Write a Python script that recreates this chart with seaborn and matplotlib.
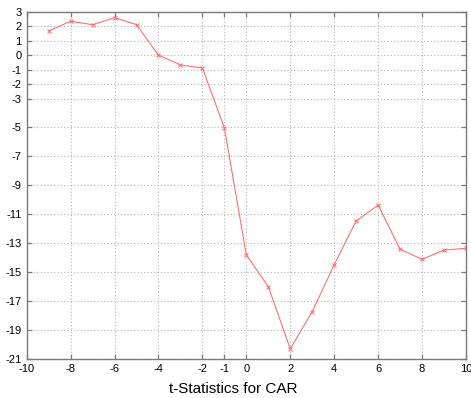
import matplotlib
matplotlib.use("Agg")
import matplotlib.pyplot as plt
import seaborn as sns
import pandas as pd

event_day = [-9, -8, -7, -6, -5, -4, -3, -2, -1, 0, 1, 2, 3, 4, 5, 6, 7, 8, 9, 10]
t_stat = [1.67, 2.34, 2.1, 2.59, 2.1, 0.0, -0.68, -0.89, -5.03, -13.81, -16.0, -20.3,
          -17.73, -14.48, -11.46, -10.36, -13.42, -14.11, -13.47, -13.35]
x_ticks = [-10, -8, -6, -4, -2, -1, 0, 2, 4, 6, 8, 10]
y_ticks = [3, 2, 1, 0, -1, -2, -3, -5, -7, -9, -11, -13, -15, -17, -19, -21]
x_label = "t-Statistics for CAR"

df = pd.DataFrame({"day": event_day, "t": t_stat})

sns.set_style("white")
plt.rcParams["font.family"] = ["Liberation Sans", "DejaVu Sans"]

fig = plt.figure(figsize=(4.71, 3.98), dpi=100)
ax = fig.add_axes([26.7 / 471, 1 - 359 / 398, (466 - 26.7) / 471, (359 - 11.7) / 398])

sns.lineplot(data=df, x="day", y="t", ax=ax, color="#ff6a6a", linewidth=0.75,
             marker="x", markersize=3.2, markeredgewidth=0.7, markeredgecolor="#ff6a6a")

ax.set_xlim(-10, 10)
ax.set_ylim(-21, 3)
ax.set_xticks(x_ticks)
ax.set_yticks(y_ticks)
ax.set_xticklabels([str(v) for v in x_ticks])
ax.set_yticklabels([str(v) for v in y_ticks])
ax.set_xlabel("")
ax.set_ylabel("")

ax.grid(True, linestyle=(0, (1, 2)), color="#b4b4b4", linewidth=0.8)
for s in ax.spines.values():
    s.set_color("#7a7a7a")
    s.set_linewidth(1.0)
    s.set_visible(True)
ax.tick_params(direction="in", length=3.5, width=0.9, color="#7a7a7a",
               top=True, right=True, bottom=True, left=True,
               labelsize=8, labelcolor="black", pad=3.5)

fig.text(233.3 / 471, 1 - 393 / 398, x_label, ha="center", va="baseline",
         fontsize=11, color="black")

fig.savefig("out.png", dpi=100)
